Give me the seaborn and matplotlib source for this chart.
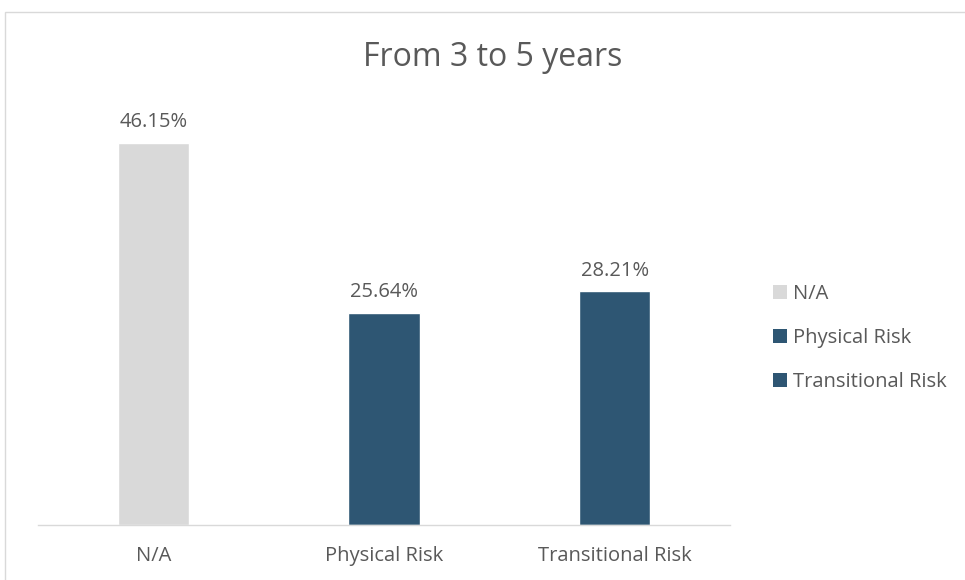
import matplotlib
matplotlib.use("Agg")
import matplotlib.pyplot as plt
import seaborn as sns
import pandas as pd
from matplotlib.patches import Rectangle, Patch

categories = ["N/A", "Physical Risk", "Transitional Risk"]
values = [46.15, 25.64, 28.21]
colors = ["#D9D9D9", "#2E5673", "#2E5673"]
title = "From 3 to 5 years"

sns.set_theme(style="white")
plt.rcParams['font.family'] = ['Open Sans', 'DejaVu Sans']
txt = "#595959"

df = pd.DataFrame({"cat": categories, "val": values})
fig = plt.figure(figsize=(9.65, 5.8), dpi=100)
ax = fig.add_axes([38/965, 1-525/580, (730-38)/965, (525-111)/580])
sns.barplot(data=df, x="cat", y="val", hue="cat", palette=colors, width=0.31,
            order=categories, hue_order=categories, legend=False, ax=ax, saturation=1)
ax.set_ylim(0, 50)
ax.set_xlim(-0.5, 2.5)
ax.set_xlabel("")
ax.set_ylabel("")
ax.set_yticks([])
for s in ["top", "right", "left"]:
    ax.spines[s].set_visible(False)
ax.spines["bottom"].set_color("#D9D9D9")
ax.spines["bottom"].set_linewidth(1)
ax.tick_params(axis="x", colors=txt, labelsize=14.5, length=0, pad=15)
for i, v in enumerate(values):
    ax.text(i, v + 1.3, f"{v:.2f}%", ha="center", va="bottom", color=txt, fontsize=14.5)

fig.text(493/965, 1-58/580, title, ha="center", va="center", fontsize=23, color=txt)

handles = [Patch(facecolor=c, edgecolor="none") for c in colors]
leg = fig.legend(handles, categories, loc="upper left", bbox_to_anchor=(757/965, 1-268/580),
                 frameon=False, fontsize=14.5, labelcolor=txt, handlelength=0.7, handleheight=0.7,
                 handletextpad=0.3, labelspacing=1.2, borderpad=0.3)

fig.patches.append(Rectangle((5/965, -0.01), 1.0, 1-12/580 + 0.01, transform=fig.transFigure,
                             fill=False, edgecolor="#D9D9D9", linewidth=1))
fig.savefig("out.png", dpi=100)
